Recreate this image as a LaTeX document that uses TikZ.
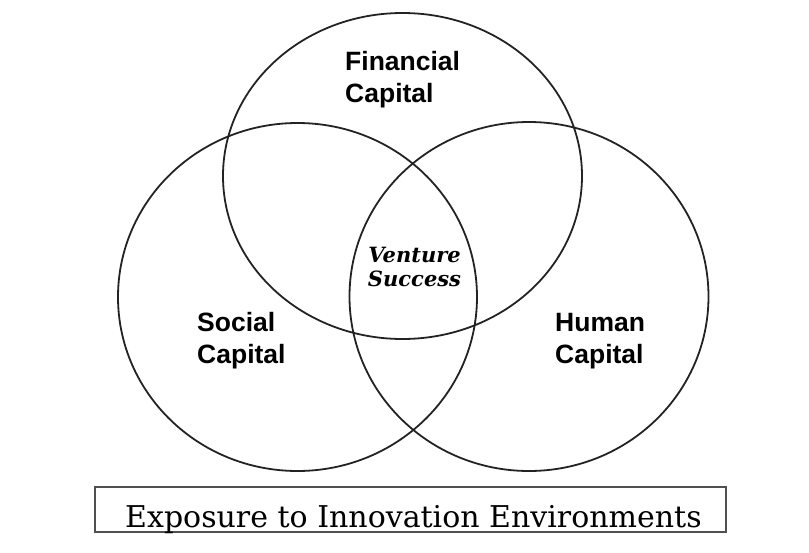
\documentclass[tikz,border=0pt]{standalone}
\usepackage{fontspec}
\setmainfont{DejaVu Serif}
\newfontfamily\capfont{Liberation Sans}
\definecolor{myline}{RGB}{35,35,35}
\definecolor{mybox}{RGB}{80,80,80}
\usetikzlibrary{shapes,positioning}

\begin{document}
\begin{tikzpicture}[x=1pt,y=-1pt,
    capnode/.style={ellipse,draw=myline,line width=1.8pt,minimum width=359pt,inner sep=0pt},
    caplabel/.style={font=\capfont\bfseries\fontsize{26.5}{31.5}\selectfont,align=left,inner sep=0pt,anchor=base west},
    goalnode/.style={font=\bfseries\itshape\fontsize{21}{24}\selectfont,align=center,inner sep=0pt},
    envnode/.style={draw=mybox,line width=1.8pt,minimum width=631pt,minimum height=45pt,inner sep=0pt}
    ]
    \useasboundingbox (0,0) rectangle (809,552);

    % the three capitals
    \node[capnode,minimum height=326pt] (fin) at (402.5,176) {};
    \node[capnode,minimum height=348pt] (soc) at (297.5,297) {};
    \node[capnode,minimum height=349pt] (hum) at (529,296.5) {};

    % their labels (base = last line)
    \node[caplabel] (finlab) at (345,102) {Financial\\Capital};
    \node[caplabel] (soclab) at (197,363) {Social\\Capital};
    \node[caplabel] (humlab) at (555,363) {Human\\Capital};

    % the overlap of all three
    \node[goalnode,anchor=base] (goal) at (414.5,286) {Venture\\Success};

    % the environment below
    \node[envnode] (env) at (410.5,509.5) {};
    \node[font=\fontsize{30}{34}\selectfont,anchor=base west,inner sep=0pt] (envlab) at (125,527) {Exposure to Innovation Environments};
\end{tikzpicture}
\end{document}
